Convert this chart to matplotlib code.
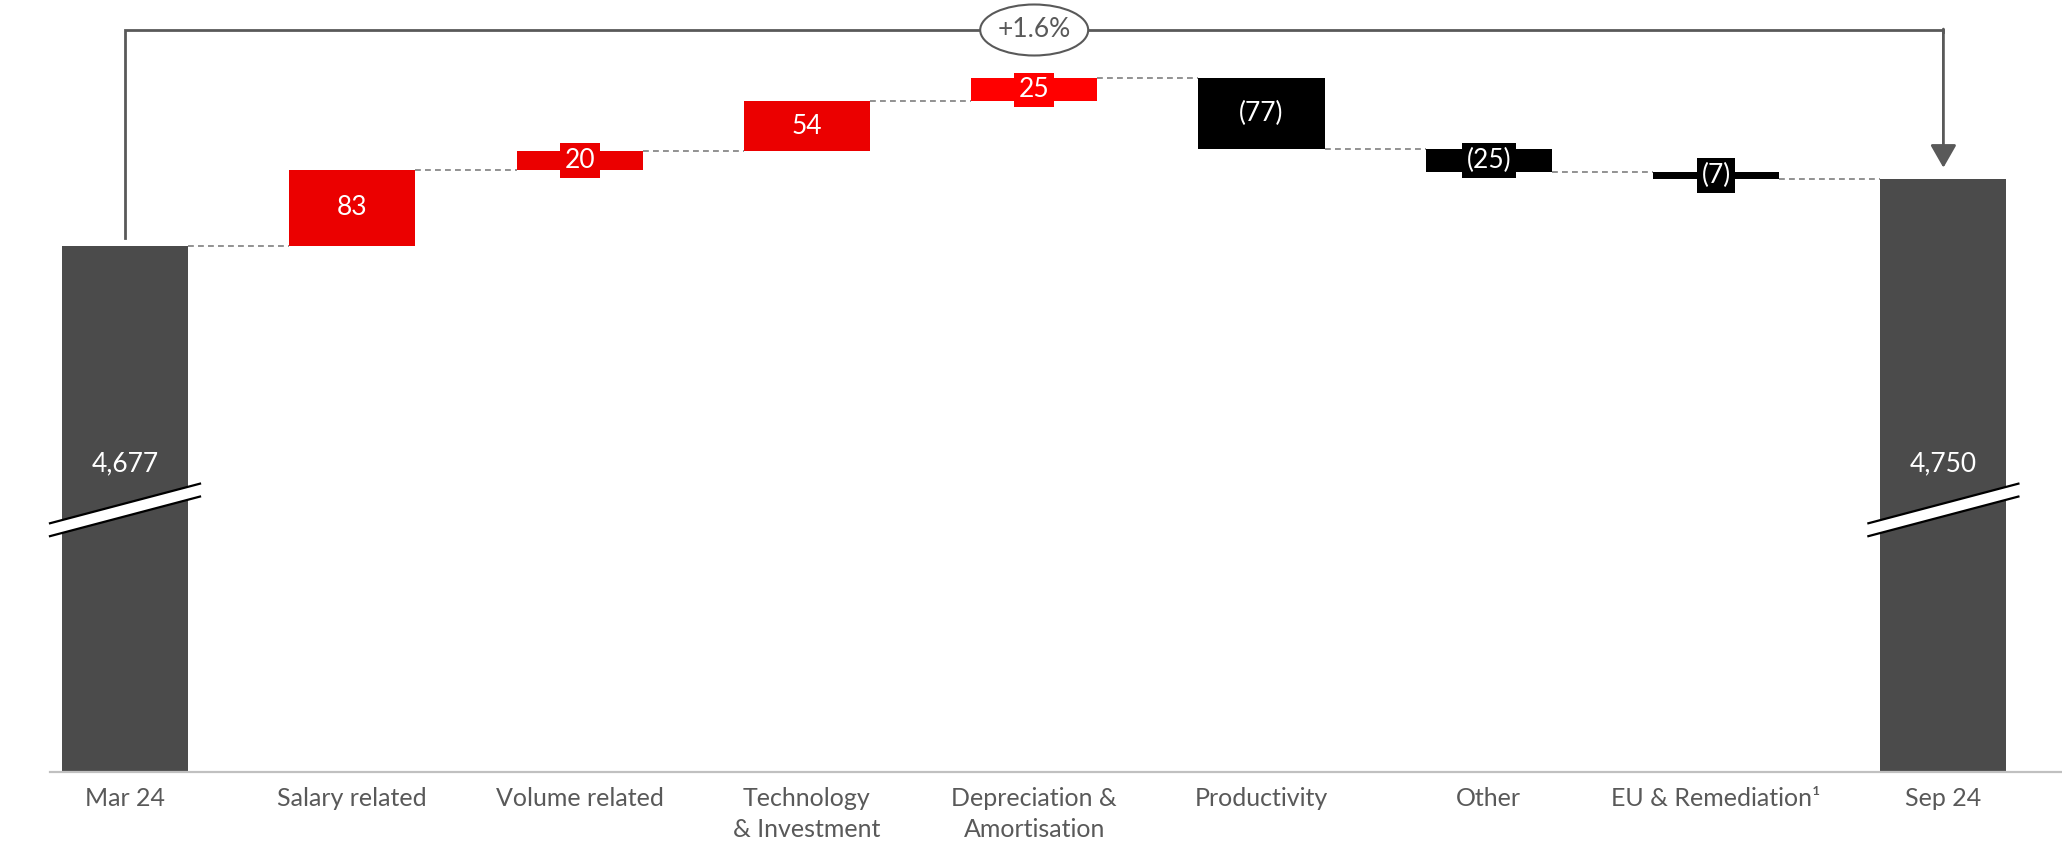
import matplotlib
matplotlib.use("Agg")
import matplotlib.pyplot as plt
from matplotlib.patches import Polygon, Ellipse
from matplotlib.transforms import IdentityTransform

categories = ["Mar 24", "Salary related", "Volume related", "Technology\n& Investment",
              "Depreciation &\nAmortisation", "Productivity", "Other",
              "EU & Remediation\u00b9", "Sep 24"]
start_value = 4677
end_value = 4750
changes = [83, 20, 54, 25, -77, -25, -7]
value_labels = ["4,677", "83", "20", "54", "25", "(77)", "(25)", "(7)", "4,750"]
change_label = "+1.6%"

RED = "#EB0000"
RED2 = "#FF0000"
BLACK = "#000000"
GREY_BAR = "#4B4B4B"
TXT = "#595959"

plt.rcParams['font.family'] = ['Lato', 'DejaVu Sans']

W, H = 2062, 844
fig = plt.figure(figsize=(W / 100, H / 100), dpi=100)
ax = fig.add_axes([0, 72 / H, 1, 772 / H])
step_px = 227.3
ax.set_xlim(-125 / step_px, (W - 125) / step_px)
floor = 4106
ax.set_ylim(floor, 4944)
for s in ["top", "left", "right"]:
    ax.spines[s].set_visible(False)
ax.spines["bottom"].set_color("#C0C0C0")
ax.spines["bottom"].set_linewidth(1.6)
ax.spines["bottom"].set_bounds(-0.33, (W - 125) / step_px)
ax.set_yticks([])

bw = 0.555
hw = bw / 2
n = len(categories)

# totals
for i, v in [(0, start_value), (n - 1, end_value)]:
    ax.bar(i, v - floor, bottom=floor, width=bw, color=GREY_BAR, zorder=2)

# changes
running = start_value
levels = [start_value]
for k, d in enumerate(changes):
    i = k + 1
    bottom = running if d >= 0 else running + d
    if d >= 0:
        color = RED2 if k == 3 else RED
    else:
        color = BLACK
    ax.bar(i, abs(d), bottom=bottom, width=bw, color=color, zorder=2)
    mid = bottom + abs(d) / 2
    bbox = None
    if abs(d) < 30:
        bbox = dict(boxstyle="square,pad=0.18", fc=color, ec="none")
    ax.text(i, mid, value_labels[i], ha="center", va="center", color="white",
            fontsize=19, zorder=4, bbox=bbox)
    running += d
    levels.append(running)

# connectors
for i in range(n - 1):
    lvl = levels[i]
    ax.plot([i + hw, i + 1 - hw], [lvl, lvl], color="#7F7F7F", lw=1.2,
            ls=(0, (3.5, 2.5)), zorder=1)

# total labels
for i, lab in [(0, value_labels[0]), (n - 1, value_labels[-1])]:
    ax.text(i, 4441, lab, ha="center", va="center", color="white", fontsize=19, zorder=4)

# break marks
for i in [0, n - 1]:
    xl, xr = i - 0.33, i + 0.33
    top_l, top_r = 4376, 4419
    bot_l, bot_r = 4362, 4405
    ax.add_patch(Polygon([[xl, top_l], [xr, top_r], [xr, bot_r], [xl, bot_l]],
                         closed=True, fc="white", ec="none", zorder=3))
    ax.plot([xl, xr], [top_l, top_r], color="black", lw=1.6, zorder=3.5)
    ax.plot([xl, xr], [bot_l, bot_r], color="black", lw=1.6, zorder=3.5)

# bracket
px = 772 / (4944 - floor)
y_start = start_value + 8 / px
y_top = 4944 - 30 / px
y_tip = end_value + 11 / px
ax.plot([0, 0, n - 1, n - 1], [y_start, y_top, y_top, y_top - 2], color=TXT, lw=2,
        solid_joinstyle="miter", zorder=2)
ax.annotate("", xy=(n - 1, y_tip), xytext=(n - 1, y_top + 1),
            arrowprops=dict(arrowstyle="-|>,head_length=0.7,head_width=0.4",
                            mutation_scale=20, color=TXT, lw=2, shrinkA=0, shrinkB=0),
            zorder=2)
cx, cy = ax.transData.transform(((n - 1) / 2, y_top))
ell = Ellipse((cx, cy), 108, 51, fc="white", ec=TXT, lw=1.5, zorder=5, clip_on=False)
ell.set_transform(IdentityTransform())
ax.add_artist(ell)
ax.text((n - 1) / 2, y_top, change_label, ha="center", va="center", color=TXT,
        fontsize=19, zorder=6)

# category labels
ax.set_xticks(range(n))
ax.set_xticklabels(categories, fontsize=18, color=TXT, linespacing=1.42)
ax.tick_params(axis="x", length=0, pad=11)

fig.savefig("out.png", dpi=100)
